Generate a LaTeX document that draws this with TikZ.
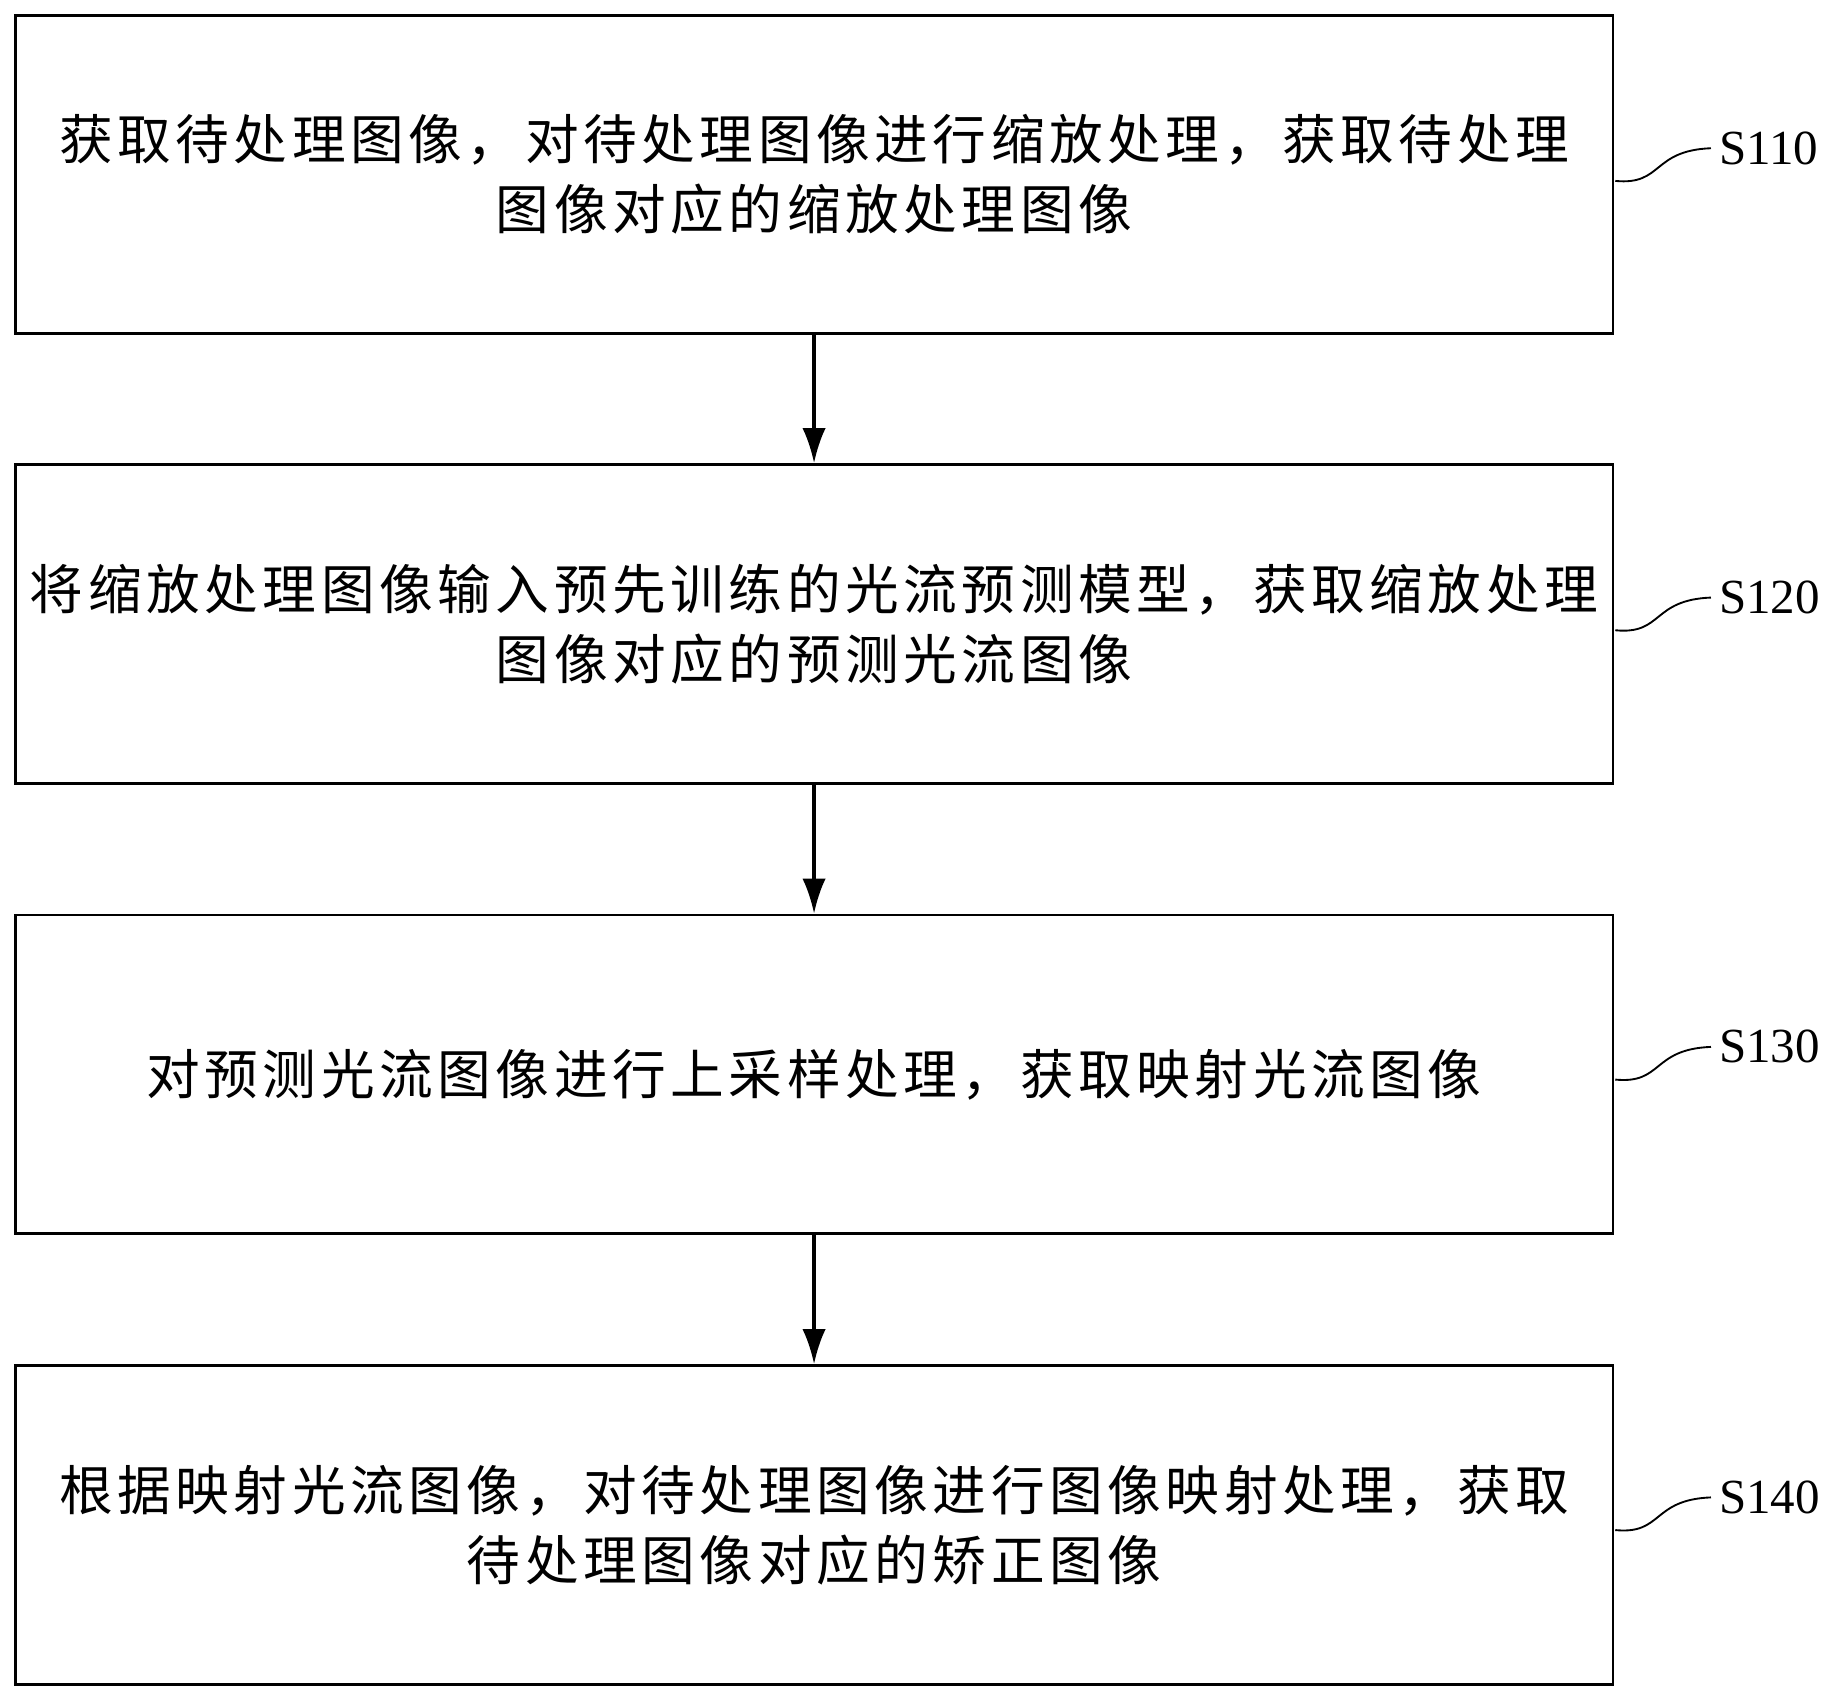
\documentclass[tikz,border=0pt]{standalone}
\usepackage{fontspec}
\setmainfont{Liberation Serif}
\newfontfamily\cjk{Noto Sans CJK SC}[LetterSpace=8.5]
\usetikzlibrary{arrows.meta}
\begin{document}
\begin{tikzpicture}[x=0.5pt,y=-0.5pt,
  box/.style={draw,line width=1.2pt,minimum width=684.5pt,minimum height=136.5pt,inner sep=0pt,align=center,font=\cjk\fontsize{23}{30}\selectfont},
  arr/.style={line width=1.4pt,-{Latex[length=15pt,width=10pt]}},
  lab/.style={font=\fontsize{21}{24}\selectfont,anchor=west},
  sq/.style={line width=0.8pt}]
\useasboundingbox (0,0) rectangle (1568,1457);
\node[box] (b1) at (697.5,149.5) {获取待处理图像，对待处理图像进行缩放处理，获取待处理\\图像对应的缩放处理图像};
\node[box] (b2) at (697.5,534.5) {将缩放处理图像输入预先训练的光流预测模型，获取缩放处理\\图像对应的预测光流图像};
\node[box] (b3) at (697.5,920.5) {对预测光流图像进行上采样处理，获取映射光流图像};
\node[box] (b4) at (697.5,1306.5) {根据映射光流图像，对待处理图像进行图像映射处理，获取\\待处理图像对应的矫正图像};
\draw[arr] (b1.south) -- (b2.north);
\draw[arr] (b2.south) -- (b3.north);
\draw[arr] (b3.south) -- (b4.north);
\foreach \i/\y/\t in {1/127/S110,2/512/S120,3/897/S130,4/1283/S140}{
  \node[lab] (l\i) at (1466,\y) {\t};
  \coordinate (s\i) at (1384,\y+28);
  \draw[sq] (s\i) .. controls (1425,\y+32) and (1415,\y+2) .. (l\i.west);
}
\end{tikzpicture}
\end{document}
